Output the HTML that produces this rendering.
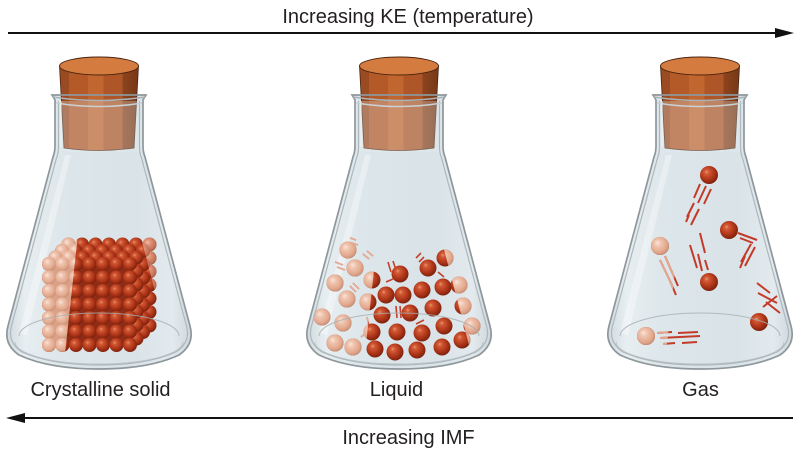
<!DOCTYPE html>
<html>
<head>
<meta charset="utf-8">
<style>
html,body{margin:0;padding:0;background:#fff;}
svg{display:block;}
text{font-family:"Liberation Sans",Arial,sans-serif;font-size:20px;fill:#231f20;}
</style>
</head>
<body>
<svg width="800" height="454" viewBox="0 0 800 454" xmlns="http://www.w3.org/2000/svg">
<defs>
  <radialGradient id="gr" cx="0.42" cy="0.4" r="0.62" fx="0.36" fy="0.32">
    <stop offset="0" stop-color="#ec9471"/>
    <stop offset="0.2" stop-color="#d15a35"/>
    <stop offset="0.6" stop-color="#b3381b"/>
    <stop offset="1" stop-color="#7c200c"/>
  </radialGradient>
  <radialGradient id="gp" cx="0.42" cy="0.4" r="0.62" fx="0.36" fy="0.32">
    <stop offset="0" stop-color="#fbe4d8"/>
    <stop offset="0.3" stop-color="#efc4af"/>
    <stop offset="0.75" stop-color="#e2a88d"/>
    <stop offset="1" stop-color="#c98e74"/>
  </radialGradient>
  <linearGradient id="cork" x1="0" y1="0" x2="1" y2="0">
    <stop offset="0" stop-color="#9a4b21"/>
    <stop offset="0.12" stop-color="#9a4b21"/>
    <stop offset="0.12" stop-color="#b45a28"/>
    <stop offset="0.36" stop-color="#b45a28"/>
    <stop offset="0.36" stop-color="#c0662e"/>
    <stop offset="0.56" stop-color="#c0662e"/>
    <stop offset="0.56" stop-color="#ae5628"/>
    <stop offset="0.8" stop-color="#ae5628"/>
    <stop offset="0.8" stop-color="#8c441d"/>
    <stop offset="1" stop-color="#773816"/>
  </linearGradient>
  <linearGradient id="glass" x1="0" y1="0" x2="1" y2="0">
    <stop offset="0" stop-color="#d0dadf"/>
    <stop offset="0.1" stop-color="#e7eef1"/>
    <stop offset="0.3" stop-color="#dde6ea"/>
    <stop offset="0.7" stop-color="#d9e3e8"/>
    <stop offset="0.9" stop-color="#e3eaee"/>
    <stop offset="1" stop-color="#cdd7dc"/>
  </linearGradient>

  <path id="body" d="M -47,95 L -44,100 L -44,146 Q -44,152 -46,157 L -91,326 Q -96,344 -80,355 Q -50,369 0,369 Q 50,369 80,355 Q 96,344 91,326 L 46,157 Q 44,152 44,146 L 44,100 L 47,95 Z"/>

  <g id="flaskBack">
    <use href="#body" fill="url(#glass)"/>
    <path d="M -34,155 L -28,155 L -72,335 L -80,333 Z" fill="#ffffff" opacity="0.35"/>
  </g>

  <g id="corkG">
    <path d="M -39.5,66 L -35,148 Q 0,153 35,148 L 39.5,66 Z" fill="url(#cork)" stroke="#4a2410" stroke-width="0.8"/>
    <ellipse cx="0" cy="66" rx="39.5" ry="9" fill="#d47b3f" stroke="#4a2410" stroke-width="0.9"/>
    <path d="M -44,101 L 44,101 L 44,152 L -44,152 Z" fill="#e3eaed" opacity="0.3"/>
  </g>

  <g id="flaskFront" fill="none">
    <path d="M -80,336 A 80 23 0 0 1 80,336" stroke="#a5aeb2" stroke-width="1" opacity="0.8"/>
    <path d="M -84,342 A 84 22 0 0 0 84,342" stroke="#b3bbbf" stroke-width="1" opacity="0.8"/>
    <use href="#body" stroke="#8e979b" stroke-width="1.7"/>
    <path d="M -40.5,101 L -40.5,147 Q -40.5,153 -42.5,158 L -87.5,326 Q -92,342 -77,352 Q -48,365 0,365 Q 48,365 77,352 Q 92,342 87.5,326 L 42.5,158 Q 40.5,153 40.5,147 L 40.5,101" stroke="#aeb7bb" stroke-width="1.2"/>
    <path d="M -46,97 Q 0,104 46,97" stroke="#a9b2b6" stroke-width="1.6"/>
    <path d="M -43,103 Q 0,110 43,103" stroke="#c9d1d4" stroke-width="1.6"/>
    <path d="M -38,101 L -38,147" stroke="#f2f6f7" stroke-width="1.2" opacity="0.8"/>
  </g>

  <clipPath id="lb1"><polygon points="49,150 87,150 63,372 -1,372"/></clipPath>
  <clipPath id="rb1"><polygon points="118,150 159,150 209,372 169,345"/></clipPath>
  <clipPath id="lb2"><polygon points="349,150 387,150 363,372 299,372"/></clipPath>
  <clipPath id="rb2"><polygon points="418,150 459,150 509,372 469,345"/></clipPath>
  <clipPath id="lb3"><polygon points="650,150 688,150 664,372 600,372"/></clipPath>

  <polygon id="cubeShape" points="49,262 67,245 150,245 150,327 131,345 49,345"/>
  <g id="cube">
    <circle cx="68.5" cy="244.5" r="7"/><circle cx="82" cy="244.5" r="7"/><circle cx="95.5" cy="244.5" r="7"/><circle cx="109" cy="244.5" r="7"/><circle cx="122.5" cy="244.5" r="7"/><circle cx="136" cy="244.5" r="7"/><circle cx="149.5" cy="244.5" r="7"/>
    <circle cx="149.5" cy="258" r="7"/><circle cx="149.5" cy="271.5" r="7"/><circle cx="149.5" cy="285" r="7"/><circle cx="149.5" cy="298.5" r="7"/><circle cx="149.5" cy="312" r="7"/><circle cx="149.5" cy="325.5" r="7"/>
    <circle cx="62" cy="251" r="7"/><circle cx="75.5" cy="251" r="7"/><circle cx="89" cy="251" r="7"/><circle cx="102.5" cy="251" r="7"/><circle cx="116" cy="251" r="7"/><circle cx="129.5" cy="251" r="7"/><circle cx="143" cy="251" r="7"/>
    <circle cx="143" cy="264.5" r="7"/><circle cx="143" cy="278" r="7"/><circle cx="143" cy="291.5" r="7"/><circle cx="143" cy="305" r="7"/><circle cx="143" cy="318.5" r="7"/><circle cx="143" cy="332" r="7"/>
    <circle cx="55.5" cy="257.5" r="7"/><circle cx="69" cy="257.5" r="7"/><circle cx="82.5" cy="257.5" r="7"/><circle cx="96" cy="257.5" r="7"/><circle cx="109.5" cy="257.5" r="7"/><circle cx="123" cy="257.5" r="7"/><circle cx="136.5" cy="257.5" r="7"/>
    <circle cx="136.5" cy="271" r="7"/><circle cx="136.5" cy="284.5" r="7"/><circle cx="136.5" cy="298" r="7"/><circle cx="136.5" cy="311.5" r="7"/><circle cx="136.5" cy="325" r="7"/><circle cx="136.5" cy="338.5" r="7"/>
    <circle cx="49" cy="264" r="7"/><circle cx="62.5" cy="264" r="7"/><circle cx="76" cy="264" r="7"/><circle cx="89.5" cy="264" r="7"/><circle cx="103" cy="264" r="7"/><circle cx="116.5" cy="264" r="7"/><circle cx="130" cy="264" r="7"/>
    <circle cx="49" cy="277.5" r="7"/><circle cx="62.5" cy="277.5" r="7"/><circle cx="76" cy="277.5" r="7"/><circle cx="89.5" cy="277.5" r="7"/><circle cx="103" cy="277.5" r="7"/><circle cx="116.5" cy="277.5" r="7"/><circle cx="130" cy="277.5" r="7"/>
    <circle cx="49" cy="291" r="7"/><circle cx="62.5" cy="291" r="7"/><circle cx="76" cy="291" r="7"/><circle cx="89.5" cy="291" r="7"/><circle cx="103" cy="291" r="7"/><circle cx="116.5" cy="291" r="7"/><circle cx="130" cy="291" r="7"/>
    <circle cx="49" cy="304.5" r="7"/><circle cx="62.5" cy="304.5" r="7"/><circle cx="76" cy="304.5" r="7"/><circle cx="89.5" cy="304.5" r="7"/><circle cx="103" cy="304.5" r="7"/><circle cx="116.5" cy="304.5" r="7"/><circle cx="130" cy="304.5" r="7"/>
    <circle cx="49" cy="318" r="7"/><circle cx="62.5" cy="318" r="7"/><circle cx="76" cy="318" r="7"/><circle cx="89.5" cy="318" r="7"/><circle cx="103" cy="318" r="7"/><circle cx="116.5" cy="318" r="7"/><circle cx="130" cy="318" r="7"/>
    <circle cx="49" cy="331.5" r="7"/><circle cx="62.5" cy="331.5" r="7"/><circle cx="76" cy="331.5" r="7"/><circle cx="89.5" cy="331.5" r="7"/><circle cx="103" cy="331.5" r="7"/><circle cx="116.5" cy="331.5" r="7"/><circle cx="130" cy="331.5" r="7"/>
    <circle cx="49" cy="345" r="7"/><circle cx="62.5" cy="345" r="7"/><circle cx="76" cy="345" r="7"/><circle cx="89.5" cy="345" r="7"/><circle cx="103" cy="345" r="7"/><circle cx="116.5" cy="345" r="7"/><circle cx="130" cy="345" r="7"/>
  </g>

  <g id="liq">
    <circle cx="348" cy="250" r="8.5"/><circle cx="445" cy="258" r="8.5"/><circle cx="428" cy="268" r="8.5"/><circle cx="355" cy="268" r="8.5"/>
    <circle cx="400" cy="274" r="8.5"/><circle cx="372" cy="280" r="8.5"/><circle cx="335" cy="283" r="8.5"/><circle cx="459" cy="285" r="8.5"/>
    <circle cx="443" cy="287" r="8.5"/><circle cx="422" cy="290" r="8.5"/><circle cx="386" cy="295" r="8.5"/><circle cx="403" cy="295" r="8.5"/>
    <circle cx="347" cy="299" r="8.5"/><circle cx="368" cy="302" r="8.5"/><circle cx="463" cy="306" r="8.5"/><circle cx="433" cy="308" r="8.5"/>
    <circle cx="410" cy="313" r="8.5"/><circle cx="382" cy="315" r="8.5"/><circle cx="322" cy="317" r="8.5"/><circle cx="343" cy="323" r="8.5"/>
    <circle cx="444" cy="326" r="8.5"/><circle cx="472" cy="326" r="8.5"/><circle cx="372" cy="332" r="8.5"/><circle cx="397" cy="332" r="8.5"/>
    <circle cx="422" cy="333" r="8.5"/><circle cx="462" cy="340" r="8.5"/><circle cx="335" cy="343" r="8.5"/><circle cx="353" cy="347" r="8.5"/>
    <circle cx="442" cy="347" r="8.5"/><circle cx="375" cy="349" r="8.5"/><circle cx="417" cy="350" r="8.5"/><circle cx="395" cy="352" r="8.5"/>
  </g>
  <g id="liqMarks" fill="none" stroke-width="1.6">
    <path d="M350,238 L356,240 M352,243 L358,245"/>
    <path d="M335,262 L343,265 M337,267 L345,270"/>
    <path d="M363,254 L369,259 M367,251 L373,256"/>
    <path d="M388,262 L391,272 M393,261 L396,270"/>
    <path d="M416,258 L421,253 M419,262 L424,257"/>
    <path d="M438,272 L444,277"/>
    <path d="M350,286 L356,292 M353,283 L359,289"/>
    <path d="M386,282 L393,279"/>
    <path d="M396,306 L397,318 M400,306 L401,318"/>
    <path d="M367,317 L369,326"/>
    <path d="M416,324 L424,320"/>
    <path d="M361,337 L366,333"/>
  </g>

  <g id="gasA">
    <circle cx="709" cy="175" r="9"/><circle cx="729" cy="230" r="9"/><circle cx="709" cy="282" r="9"/><circle cx="759" cy="322" r="9"/>
    <circle cx="660" cy="246" r="9"/><circle cx="646" cy="336" r="9"/>
  </g>
  <g id="gasMarks" fill="none" stroke-width="2">
    <path d="M700,184 L694,198 M706,186 L698,203 M711,189 L704,204 M694,203 L687,217 M699,209 L691,225 M689,215 L686,222"/>
    <path d="M738,233 L757,240 M740,238 L753,243 M751,244 L741,262 M755,247 L745,266 M745,256 L740,268"/>
    <path d="M690,245 L697,268 M700,233 L705,253 M698,254 L702,271 M705,260 L708,270"/>
    <path d="M660,260 L672,285 M665,256 L678,286 M670,281 L676,295"/>
    <path d="M757,283 L770,293 M758,293 L777,303 M763,307 L777,296 M766,302 L780,313"/>
    <path d="M657,333 L672,332 M678,333 L698,332 M660,338 L700,336 M663,344 L675,343 M682,343 L697,342"/>
  </g>
</defs>

<!-- Top arrow and label -->
<text x="408" y="23" text-anchor="middle">Increasing KE (temperature)</text>
<line x1="8" y1="33" x2="780" y2="33" stroke="#111" stroke-width="2"/>
<polygon points="775,28 794,33 775,38" fill="#111"/>

<!-- Flask 1: crystalline solid -->
<use href="#flaskBack" transform="translate(99,0)"/>
<use href="#cubeShape" fill="#8e2c16"/>
<use href="#cube" fill="url(#gr)"/>
<g clip-path="url(#lb1)"><use href="#cubeShape" fill="#d9a188"/><use href="#cube" fill="url(#gp)"/></g>
<g clip-path="url(#rb1)" opacity="0.6"><use href="#cubeShape" fill="#d9a188"/><use href="#cube" fill="url(#gp)"/></g>
<use href="#corkG" transform="translate(99,0)"/>
<use href="#flaskFront" transform="translate(99,0)"/>

<!-- Flask 2: liquid -->
<use href="#flaskBack" transform="translate(399,0)"/>
<use href="#liqMarks" stroke="#c2412b"/>
<use href="#liq" fill="url(#gr)"/>
<g clip-path="url(#lb2)"><use href="#liqMarks" stroke="#e6b09a"/><use href="#liq" fill="url(#gp)"/></g>
<g clip-path="url(#rb2)"><use href="#liq" fill="url(#gp)"/></g>
<use href="#corkG" transform="translate(399,0)"/>
<use href="#flaskFront" transform="translate(399,0)"/>

<!-- Flask 3: gas -->
<use href="#flaskBack" transform="translate(700,0)"/>
<use href="#gasMarks" stroke="#c43a28"/>
<use href="#gasA" fill="url(#gr)"/>
<g clip-path="url(#lb3)"><use href="#gasMarks" stroke="#e3a68e"/><use href="#gasA" fill="url(#gp)"/></g>
<use href="#corkG" transform="translate(700,0)"/>
<use href="#flaskFront" transform="translate(700,0)"/>

<!-- Labels -->
<text x="100.5" y="396" text-anchor="middle">Crystalline solid</text>
<text x="396.5" y="396" text-anchor="middle">Liquid</text>
<text x="700.5" y="396" text-anchor="middle">Gas</text>

<!-- Bottom arrow and label -->
<line x1="20" y1="418" x2="793" y2="418" stroke="#111" stroke-width="2"/>
<polygon points="25,413 6,418 25,423" fill="#111"/>
<text x="408.5" y="444" text-anchor="middle">Increasing IMF</text>
</svg>
</body>
</html>
